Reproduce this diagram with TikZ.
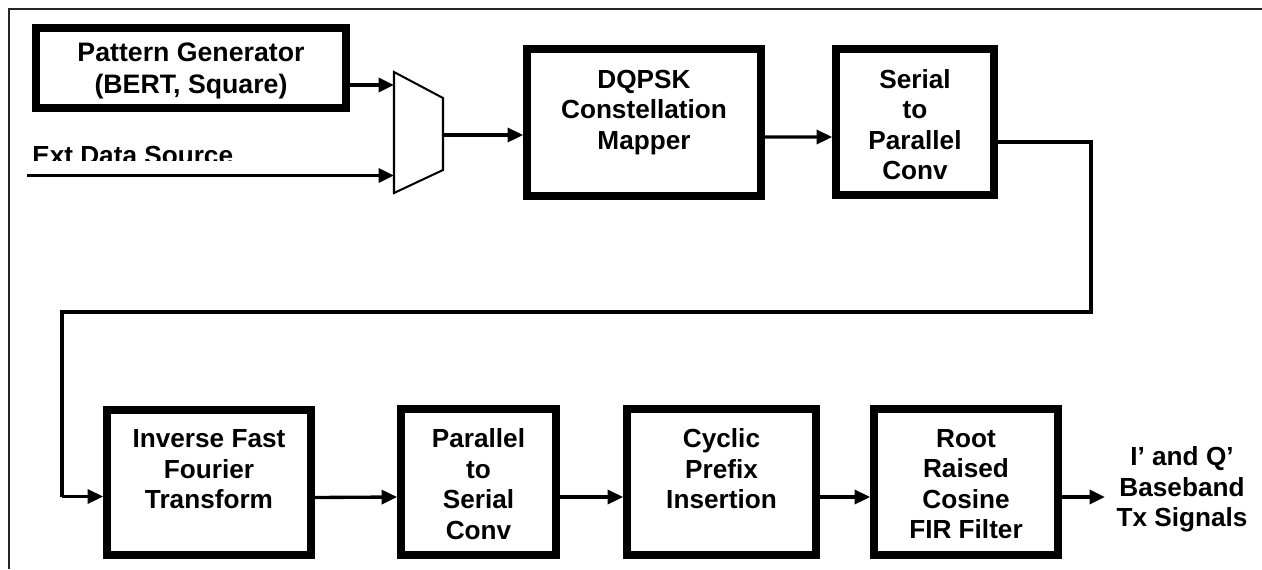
\documentclass[tikz,border=0pt]{standalone}
\usepackage{fontspec}
\setmainfont{Liberation Sans}
\usetikzlibrary{arrows.meta,calc}
\newcommand\pxu{0.02cm}
\tikzset{
  blk/.style={draw=black, line width=4.4pt, inner sep=0pt, fill=white},
  txt/.style={font=\fontsize{14.9}{17.4}\selectfont\bfseries, align=center, inner sep=0pt},
  arr/.style={line width=1.9pt, -{Triangle[length=0.31cm,width=0.28cm]}},
  wire/.style={line width=1.9pt},
  muxline/.style={line width=1.15pt, line join=miter},
  frame/.style={line width=1.4pt, draw=black!85}
}
\begin{document}
\begin{tikzpicture}[x=0.02cm,y=-0.02cm]
\useasboundingbox (0,0) rectangle (1262,569);
% frame (top and left only visible)
\draw[frame] (9,569) -- (9,9) -- (1262,9);

% upper row boxes
\node[blk, minimum width=310.5*\pxu, minimum height=80.5*\pxu] (pg) at (191,68) {};
\node[txt, font=\fontsize{15.2}{18.5}\selectfont\bfseries] (pgt) at (191,71) {Pattern Generator\\(BERT, Square)};

\node[blk, minimum width=234*\pxu, minimum height=147*\pxu] (dq) at (644,122.5) {};
\node[txt] (dqt) at (644,112.2) {DQPSK\\Constellation\\Mapper};

\node[blk, minimum width=158*\pxu, minimum height=146*\pxu] (sp) at (915,122) {};
\node[txt] (spt) at (915,124.5) {Serial\\to\\Parallel\\Conv};

% mux
\draw[muxline] (394,72) -- (443,98) -- (443,170) -- (394,193) -- cycle;
\coordinate (muxA) at (394,85);
\coordinate (muxB) at (394,175.5);
\coordinate (muxO) at (443,135);
\coordinate (extS) at (27,175.5);

% Ext Data Source (clipped text)
\begin{scope}
  \clip (20,130) rectangle (300,160.5);
  \node[txt, anchor=base west] (ext) at (32,164) {Ext Data Source};
\end{scope}

% lower row boxes
\node[blk, minimum width=204*\pxu, minimum height=145*\pxu] (ifft) at (209,482.5) {};
\node[txt] (ifftt) at (209,469.5) {Inverse Fast\\Fourier\\Transform};

\node[blk, minimum width=155*\pxu, minimum height=146*\pxu] (ps) at (478.5,482) {};
\node[txt] (pst) at (478.5,484) {Parallel\\to\\Serial\\Conv};

\node[blk, minimum width=189*\pxu, minimum height=146*\pxu] (cp) at (721.5,482) {};
\node[txt] (cpt) at (721.5,469) {Cyclic\\Prefix\\Insertion};

\node[blk, minimum width=184*\pxu, minimum height=146*\pxu] (rrc) at (966,482) {};
\node[txt] (rrct) at (966,484) {Root\\Raised\\Cosine\\FIR Filter};

\node[txt] (out) at (1182,489.7) {I’ and Q’\\Baseband\\Tx Signals};

% connectors
\draw[arr] (pg.east |- muxA) -- (muxA);
\draw[arr] (extS) -- (muxB);
\draw[arr] (muxO) -- (dq.west |- muxO);
\draw[arr] ($(dq.east)+(0,14.5)$) -- ($(sp.west)+(0,15)$);

\coordinate (c1) at (1091,142);
\coordinate (c2) at (1091,312);
\coordinate (c3) at (62,312);
\coordinate (c4) at (62,496.5);
\draw[wire, line join=miter] (sp.east |- c1) -- (c1) -- (c2) -- (c3) -- (c4);
\draw[arr] (c4) -- (ifft.west |- c4);

\draw[arr] ($(ifft.east)+(0,15)$) -- ($(ps.west)+(0,15)$);
\draw[arr] ($(ps.east)+(0,15)$) -- ($(cp.west)+(0,15)$);
\draw[arr] ($(cp.east)+(0,15)$) -- ($(rrc.west)+(0,15)$);
\coordinate (outIn) at (1105,497);
\draw[arr] (rrc.east |- outIn) -- (outIn);
\end{tikzpicture}
\end{document}
